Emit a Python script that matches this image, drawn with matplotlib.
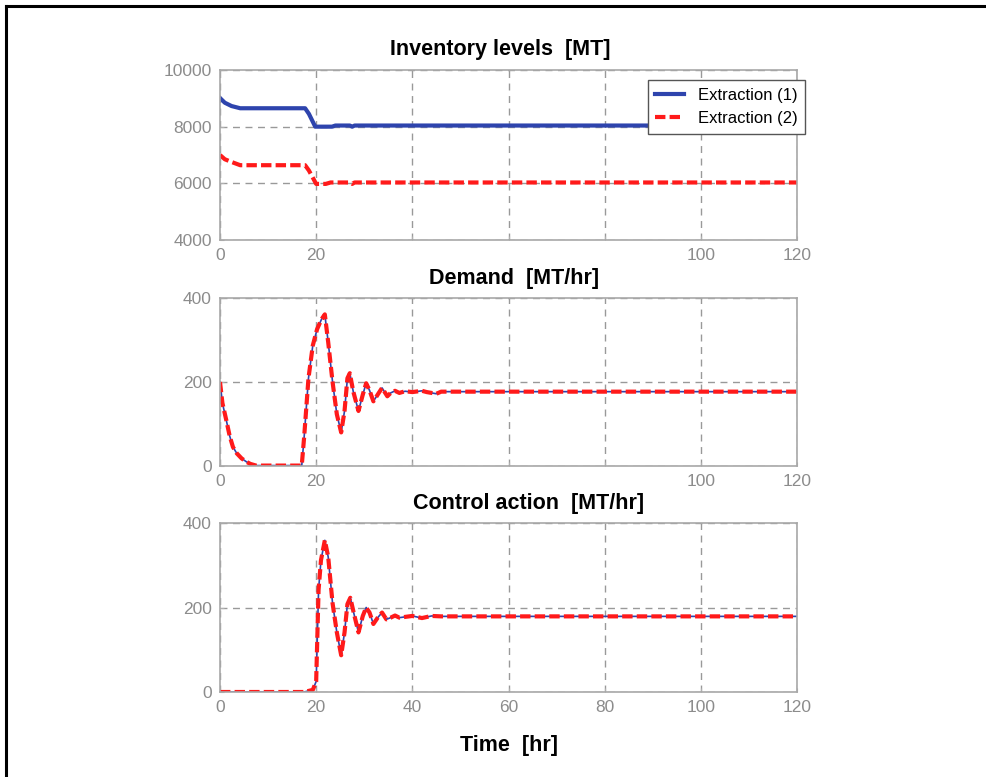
import matplotlib
matplotlib.use('Agg')
import matplotlib.pyplot as plt
from matplotlib.lines import Line2D

# данные
t_inv1 = [0, 1, 2.4, 4.2, 17.7, 18.5, 19.8, 23.3, 24, 27, 27.5, 28, 120]
inv1 = [9010, 8845, 8728, 8650, 8650, 8450, 8000, 8000, 8040, 8040, 8000, 8040, 8040]
t_inv2 = [0, 1, 2.3, 4.2, 17.7, 18.5, 20, 22, 23, 27, 27.5, 28, 120]
inv2 = [7000, 6850, 6760, 6640, 6640, 6450, 5980, 5980, 6030, 6030, 5980, 6030, 6030]

t_dem = [0, 0.5, 1.35, 2.0, 2.7, 3.5, 4.5, 5.5, 6.3, 7.5, 17.0, 17.5, 18.4, 19.3,
         20.2, 21.1, 21.8, 22.5, 23.4, 24.3, 25.2, 25.9, 26.5, 27.0, 27.7, 28.8,
         29.7, 30.4, 31.1, 31.9, 32.8, 33.7, 34.8, 35.5, 36.4, 37.3, 38.5, 40,
         42, 43, 45, 46, 120]
demand = [200, 150, 107, 72, 45, 30, 18, 10, 5, 1, 1, 69, 209, 287,
          326, 349, 361, 295, 201, 123, 80, 131, 209, 221, 178, 131,
          170, 197, 180, 154, 170, 186, 166, 174, 179, 174, 178, 176,
          179, 176, 172, 177, 177]

t_ctl = [0, 17.5, 19.3, 20.0, 20.5, 21.0, 21.8, 22.5, 23.4, 24.3, 25.2, 25.9,
         26.5, 27.1, 27.8, 28.8, 29.7, 30.4, 31.1, 31.9, 32.8, 33.7, 34.6, 35.5,
         36.4, 37.3, 40, 42, 44, 46, 120]
control = [0, 0, 5, 25, 242, 312, 359, 320, 211, 141, 87, 141,
           208, 223, 188, 141, 180, 200, 188, 161, 176, 188, 172, 176,
           181, 176, 180, 175, 180, 179, 179]

x_ticks = [0, 20, 40, 60, 80, 100, 120]
x_labels_top = ['0', '20', '', '', '', '100', '120']
x_labels_bottom = ['0', '20', '40', '60', '80', '100', '120']

blue = '#2e44ad'
red = '#ff1a1a'
gray = '#8c8c8c'
tick_font = ['Liberation Sans', 'DejaVu Sans']
title_font = ['Liberation Sans', 'DejaVu Sans']

fig = plt.figure(figsize=(9.87, 7.77), dpi=100)

# рамка слева и сверху
fig.add_artist(Line2D([6 / 987, 6 / 987], [0, 1 - 6 / 777], color='black', lw=2.2,
                      transform=fig.transFigure))
fig.add_artist(Line2D([6 / 987, 1], [1 - 6 / 777, 1 - 6 / 777], color='black', lw=2.2,
                      transform=fig.transFigure))

left = 220 / 987
width = 577 / 987
tops = [70, 298, 523]
bottoms = [240, 466, 692]
axes = []
for top, bot in zip(tops, bottoms):
    ax = fig.add_axes([left, 1 - bot / 777, width, (bot - top) / 777])
    axes.append(ax)


def style(ax, yticks, xlabels):
    ax.set_xlim(0, 120)
    ax.set_xticks(x_ticks)
    ax.set_xticklabels(xlabels)
    ax.set_yticks(yticks)
    ax.set_yticklabels([str(v) for v in yticks])
    for lab in ax.get_xticklabels() + ax.get_yticklabels():
        lab.set_family(tick_font)
        lab.set_fontsize(12.5)
        lab.set_color(gray)
    ax.tick_params(direction='in', length=3, color='#b0b0b0', pad=6)
    for s in ax.spines.values():
        s.set_color('#a8a8a8')
        s.set_linewidth(1.2)
    ax.grid(True, color='#999999', linestyle=(0, (5, 4)), linewidth=1)
    ax.set_axisbelow(True)


ax1, ax2, ax3 = axes

ax1.plot(t_inv1, inv1, color=blue, lw=3, label='Extraction (1)')
ax1.plot(t_inv2, inv2, color=red, lw=3, dashes=(2.5, 1), label='Extraction (2)')
ax1.set_ylim(4000, 10000)
style(ax1, [4000, 6000, 8000, 10000], x_labels_top)
ax1.set_title('Inventory levels  [MT]', fontsize=15.5, fontweight='bold',
              family=title_font, pad=11, x=0.485)
leg = ax1.legend(loc='upper right', bbox_to_anchor=(1.014, 0.94), borderaxespad=0,
                 fancybox=False, framealpha=1, edgecolor='#555555',
                 handlelength=1.7, handletextpad=0.85, borderpad=0.45,
                 labelspacing=0.5, prop={'family': title_font, 'size': 12})
leg.get_frame().set_linewidth(1)

ax2.plot(t_dem, demand, color=blue, lw=1.2)
ax2.plot(t_dem, demand, color=red, lw=3, dashes=(2.5, 1))
ax2.set_ylim(0, 400)
style(ax2, [0, 200, 400], x_labels_top)
ax2.set_title('Demand  [MT/hr]', fontsize=15.5, fontweight='bold',
              family=title_font, pad=10, x=0.51)

ax3.plot(t_ctl, control, color=blue, lw=1.2)
ax3.plot(t_ctl, control, color=red, lw=3, dashes=(2.5, 1))
ax3.set_ylim(0, 400)
style(ax3, [0, 200, 400], x_labels_bottom)
ax3.set_title('Control action  [MT/hr]', fontsize=15.5, fontweight='bold',
              family=title_font, pad=10, x=0.534)
ax3.set_xlabel('Time  [hr]', fontsize=15.5, fontweight='bold', family=title_font,
               labelpad=14, x=0.5)

fig.savefig('out.png', dpi=100)
